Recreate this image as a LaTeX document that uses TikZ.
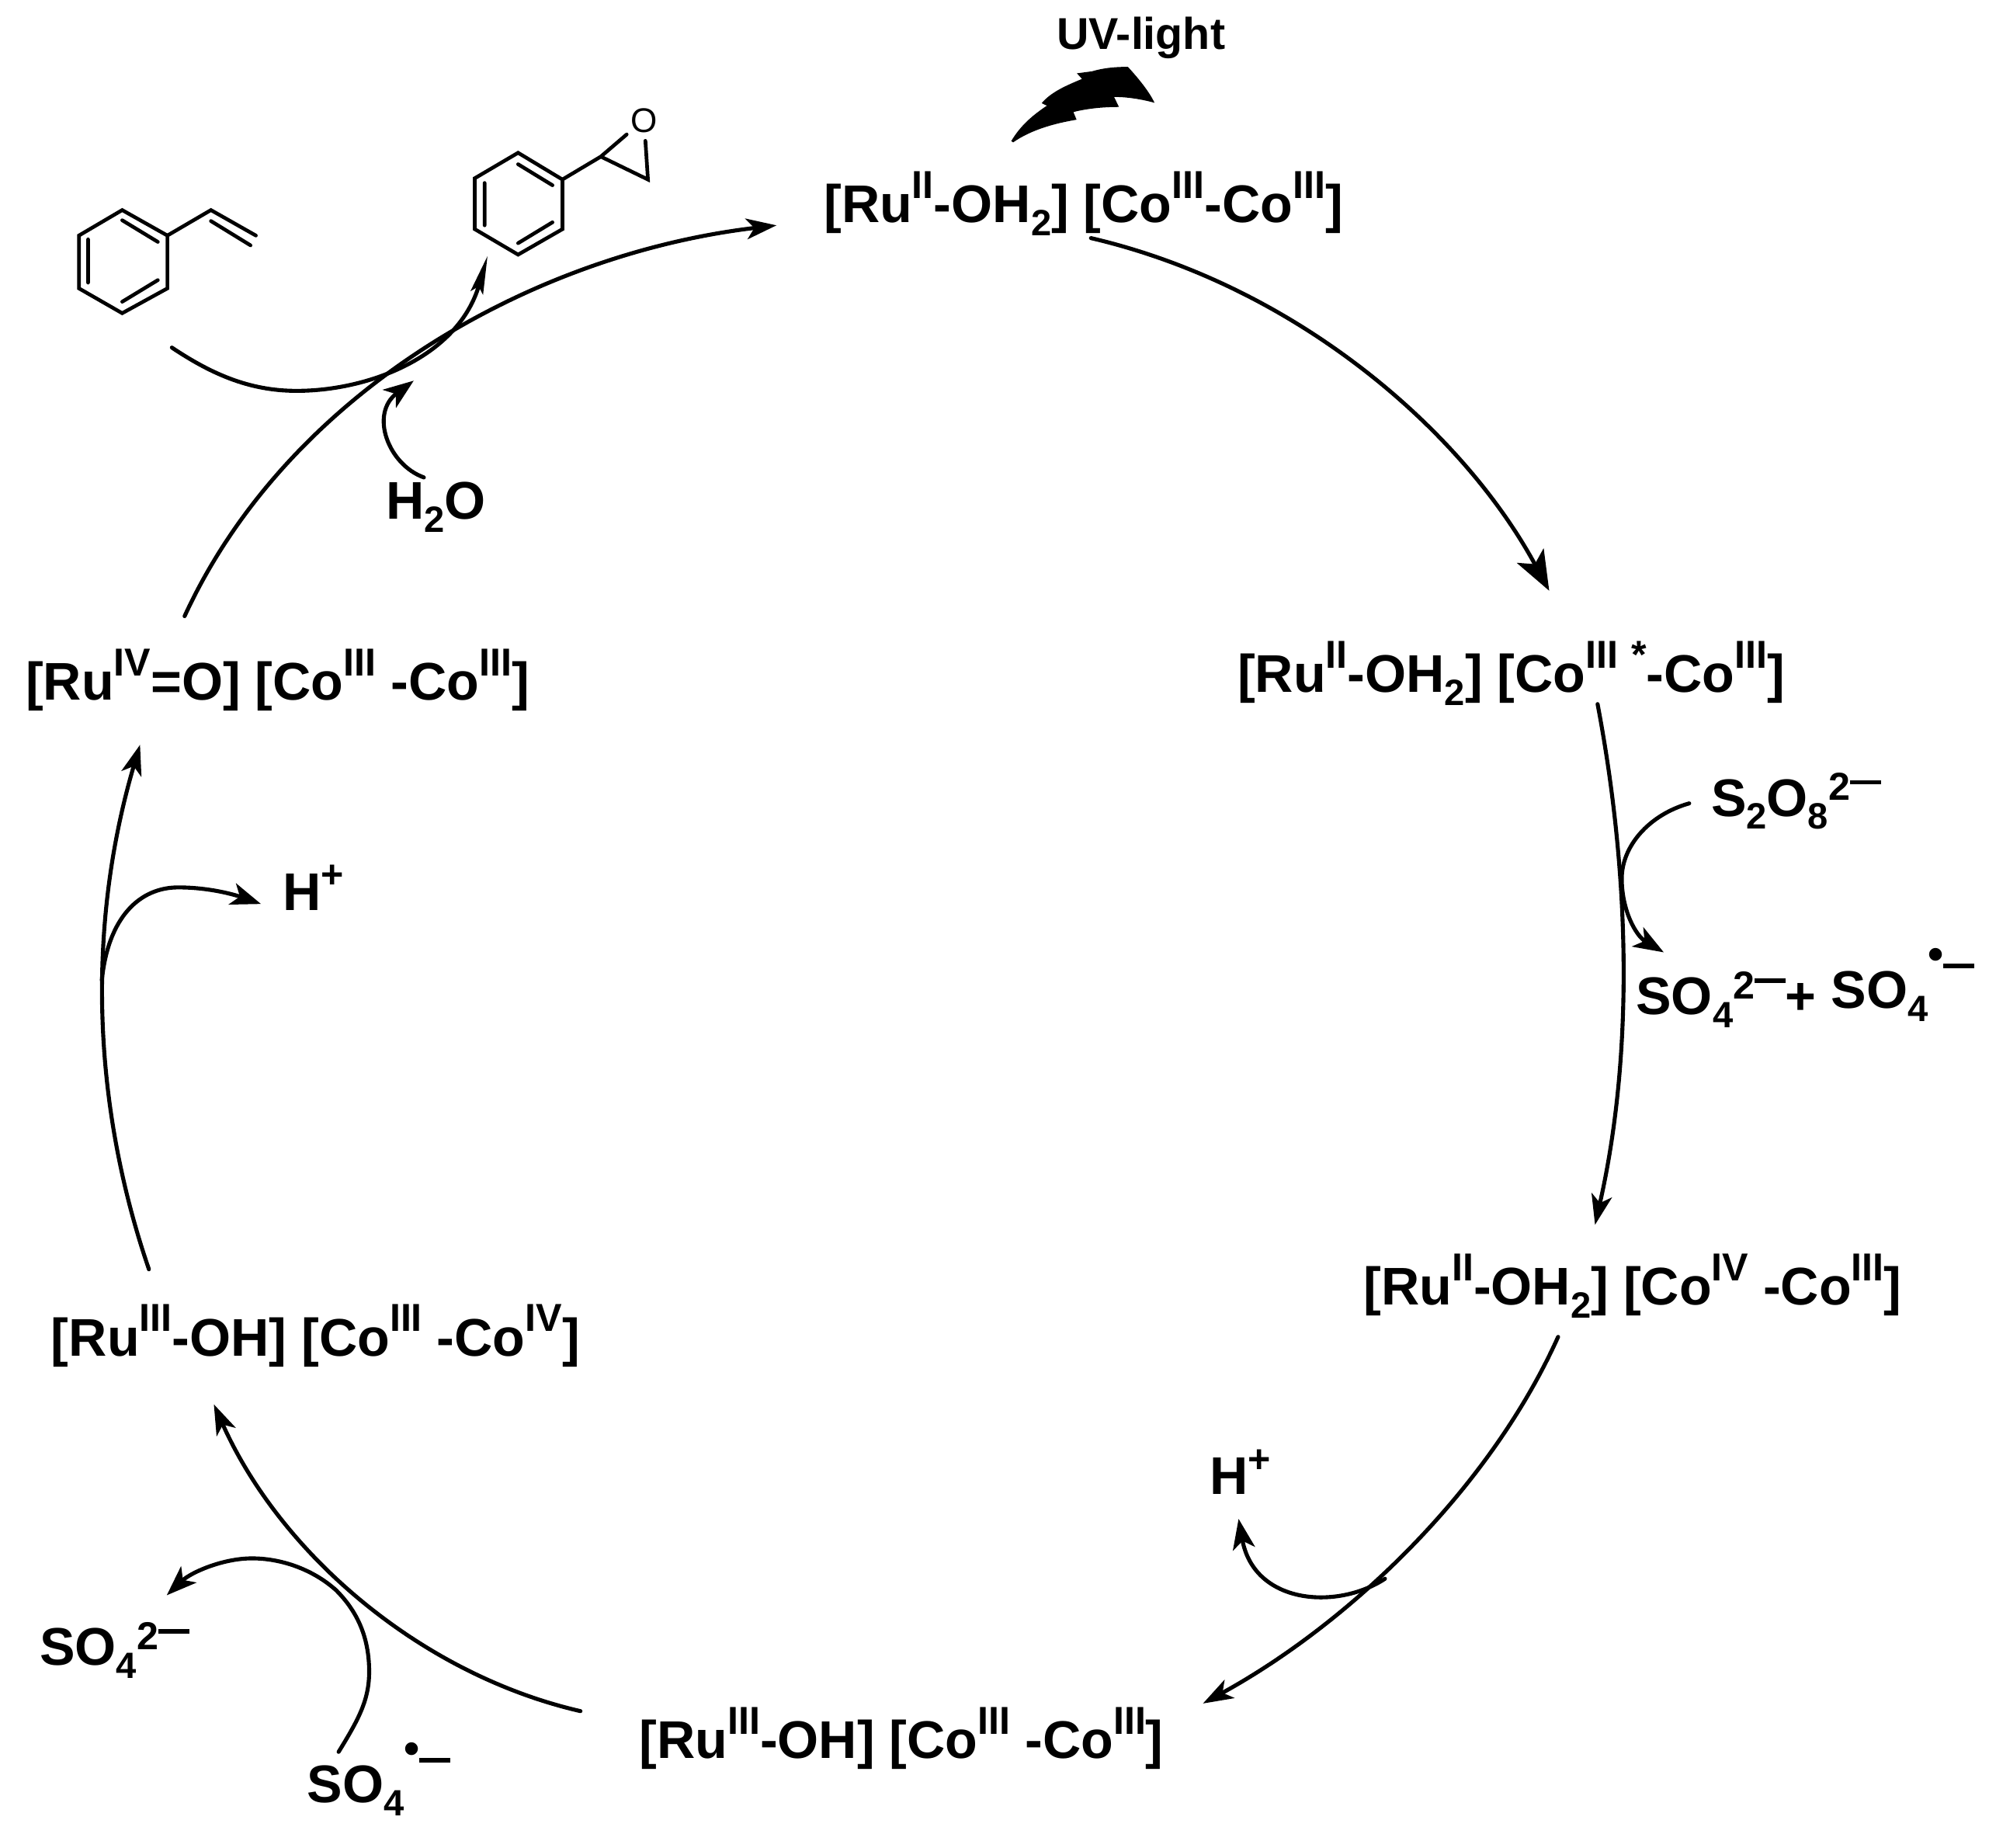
\documentclass[tikz,border=0pt]{standalone}
\usepackage{fontspec}
\setmainfont{Liberation Sans}
\usetikzlibrary{arrows.meta}
\newcommand\ssup[1]{\raisebox{.46em}{\fontsize{24.5}{24}\selectfont #1}}
\newcommand\ssub[1]{\raisebox{-.24em}{\fontsize{23}{23}\selectfont #1}}
\newcommand\chgtwo{\raisebox{.30em}{\fontsize{24.5}{24}\selectfont 2}}
\newcommand\chgdash{\raisebox{.60em}{\rule{.58em}{.08em}}}
\newcommand\raddash{\raisebox{.76em}{\rule{.58em}{.08em}}}
\newcommand\raddot{\raisebox{.74em}{\fontsize{28}{28}\selectfont •}}
\tikzset{
  lab/.style={anchor=base west,inner sep=0pt,font=\fontsize{33.3}{36}\selectfont\bfseries},
  uvlab/.style={anchor=base west,inner sep=0pt,font=\fontsize{28}{30}\selectfont\bfseries},
  atom/.style={inner sep=0pt,font=\fontsize{21.5}{24}\selectfont},
  bond/.style={line width=2.3pt,line cap=round,line join=miter},
  cyc/.style={line width=2.5pt,line cap=round,-{Stealth[length=19pt,width=13pt,inset=5pt]}},
  cycbig/.style={line width=2.5pt,line cap=round,-{Stealth[length=25pt,width=19pt,inset=6pt]}},
  sidearr/.style={line width=2.5pt,line cap=round,-{Stealth[length=19pt,width=14pt,inset=5pt]}},
  slimarr/.style={line width=2.5pt,line cap=round,-{Stealth[length=24pt,width=8pt,inset=4pt]}},
}
\begin{document}
\begin{tikzpicture}[x=0.8pt,y=-0.8pt]
\useasboundingbox (0,0) rectangle (1568,1451);
% labels
\node[uvlab] (uv) at (830,39) {UV-light};
\node[lab] (nA) at (647,175) {[Ru\ssup{II}-OH\ssub{2}] [Co\ssup{III}-Co\ssup{III}]};
\node[lab] (nB) at (972,544) {[Ru\ssup{II}-OH\ssub{2}] [Co\ssup{III\,\,*}-Co\ssup{III}]};
\node[lab] (nC) at (1071,1025) {[Ru\ssup{II}-OH\ssub{2}] [Co\ssup{IV} -Co\ssup{III}]};
\node[lab] (nD) at (502,1381) {[Ru\ssup{III}-OH] [Co\ssup{III} -Co\ssup{III}]};
\node[lab] (nE) at (40,1065) {[Ru\ssup{III}-OH] [Co\ssup{III} -Co\ssup{IV}]};
\node[lab] (nF) at (20,550) {[Ru\ssup{IV}=O] [Co\ssup{III} -Co\ssup{III}]};
\node[lab] (water) at (303,408) {H\ssub{2}O};
\node[lab] (hleft) at (222,715) {H\raisebox{-.04em}{\ssup{+}}};
\node[lab] (hright) at (950,1174) {H\raisebox{-.04em}{\ssup{+}}};
\node[lab] (persulf) at (1344,641) {S\ssub{2}O\ssub{8}\chgtwo\chgdash};
\node[lab] (sulfprod) at (1285,797) {SO\ssub{4}\chgtwo\chgdash+ \raisebox{4pt}{SO\ssub{4}\raddot\raddash}};
\node[lab] (sulfleft) at (31,1308) {SO\ssub{4}\chgtwo\chgdash};
\node[lab] (sulfrad) at (241,1416) {SO\ssub{4}\raddot\raddash};
\node[atom] (oxy) at (506,95) {O};
% lightning
\fill[black] (794.4,110.8) .. controls (802,98) and (812,90) .. (822.4,83) -- (818.3,81) .. controls (826,72) and (838,67) .. (850,62) -- (846,57.6) -- (858,56)
  .. controls (868,53) and (878,52.5) .. (886,52.5) .. controls (893,60) and (903,72) .. (906.9,80.7)
  .. controls (897,78) and (885,76) .. (875.2,76.2) -- (879,84) .. controls (868,84) and (855,85) .. (843.2,88) -- (845.7,94) .. controls (828,97) and (810,102) .. (795.9,111.8) -- cycle;
% styrene
\draw[bond] (96,165) -- (131.5,185) -- (131.5,226.5) -- (96,246) -- (62,226.5) -- (62,185) -- cycle;
\draw[bond] (96,173) -- (124,190) (69.2,188) -- (69.2,222) (124,220) -- (96,237);
\draw[bond] (131.5,185) -- (165.7,165) -- (201,185) (165.7,173.6) -- (196.8,192.7);
% styrene oxide
\draw[bond] (407,120) -- (441.8,141) -- (441.8,180) -- (407,200) -- (373,180) -- (373,140) -- cycle;
\draw[bond] (407,129) -- (434,145.5) (380.7,143.7) -- (380.7,177) (434,174.6) -- (407,191);
\draw[bond] (441.8,141) -- (472,123) -- (492.3,105.6) (472,123) -- (509,141) -- (507,110.6);
% named ends
\coordinate (aOut) at (857,187); \coordinate (bIn) at (1217,464);
\coordinate (bOut) at (1255,553); \coordinate (cIn) at (1253,962);
\coordinate (cOut) at (1224,1050); \coordinate (dIn) at (945,1338);
\coordinate (dOut) at (456,1344); \coordinate (eIn) at (168,1103);
\coordinate (eOut) at (117,997); \coordinate (fIn) at (110,585);
\coordinate (fOut) at (145,484); \coordinate (aIn) at (610,177);
\coordinate (styS) at (135,273); \coordinate (styE) at (383,201);
\coordinate (watS) at (333,375); \coordinate (watE) at (325,299);
\coordinate (perS) at (1327,631); \coordinate (perE) at (1307,748);
\coordinate (hrS) at (1088,1240); \coordinate (hrE) at (973,1193);
\coordinate (hlS) at (80,770); \coordinate (hlE) at (205,710);
\coordinate (radS) at (266,1376); \coordinate (radE) at (131,1253);
% main cycle
\draw[cycbig] (aOut) .. controls (1020,225) and (1150,340) .. (bIn);
\draw[cyc] (bOut) .. controls (1281,690) and (1283,830) .. (cIn);
\draw[cyc] (cOut) .. controls (1170,1170) and (1060,1275) .. (dIn);
\draw[cyc] (dOut) .. controls (330,1315) and (220,1220) .. (eIn);
\draw[cyc] (eOut) .. controls (70,860) and (70,720) .. (fIn);
\draw[cyc] (fOut) .. controls (225,310) and (415,200) .. (aIn);
% side arrows
\draw[slimarr] (styS) .. controls (165,293) and (195,307) .. (233,307) .. controls (290,307) and (360,280) .. (styE);
\draw[sidearr] (watS) .. controls (305,365) and (290,325) .. (watE);
\draw[sidearr] (perS) .. controls (1295,640) and (1274,665) .. (1274,690) .. controls (1274,715) and (1285,735) .. (perE);
\draw[sidearr] (hrS) .. controls (1050,1265) and (985,1260) .. (hrE);
\draw[sidearr] (hlS) .. controls (85,720) and (110,697) .. (140,697) .. controls (165,697) and (185,703) .. (hlE);
\draw[sidearr] (radS) .. controls (282,1350) and (290,1335) .. (290,1313) .. controls (290,1285) and (280,1265) .. (264,1249) .. controls (245,1232) and (220,1224) .. (198,1224) .. controls (175,1224) and (150,1235) .. (radE);
\end{tikzpicture}
\end{document}
